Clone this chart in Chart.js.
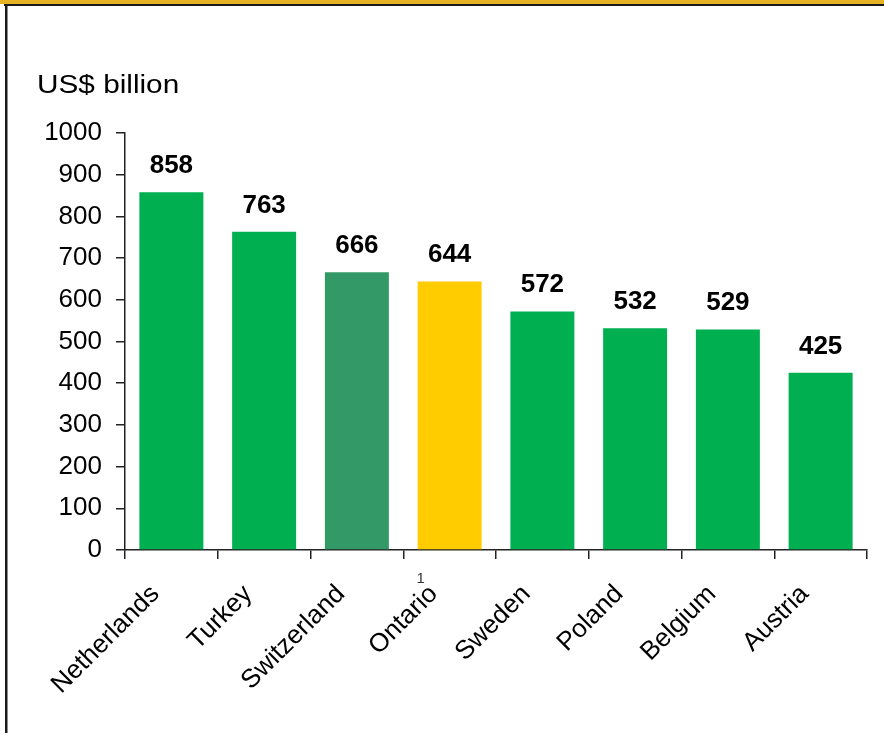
<!DOCTYPE html>
<html>
<head>
<meta charset="utf-8">
<script src="https://cdn.jsdelivr.net/npm/chart.js@4/dist/chart.umd.min.js"></script>
<style>
  html, body { margin: 0; padding: 0; background: #fff; }
  #wrap { width: 884px; height: 733px; }
</style>
</head>
<body>
<div id="wrap"><canvas id="chart" width="884" height="733"></canvas></div>
<script>
// GDP by economy, US$ billion
const categories = ['Netherlands', 'Turkey', 'Switzerland', 'Ontario', 'Sweden', 'Poland', 'Belgium', 'Austria'];
const gdpValues = [858, 763, 666, 644, 572, 532, 529, 425];
const barColors = ['#00B050', '#00B050', '#339966', '#FFCC00', '#00B050', '#00B050', '#00B050', '#00B050'];
const footnotes = ['', '', '', '1', '', '', '', ''];
const yTicks = [0, 100, 200, 300, 400, 500, 600, 700, 800, 900, 1000];
const unitLabel = 'US$ billion';

const FONT = '"Liberation Sans", Arial, Helvetica, sans-serif';

// Page frame: gold rule on top, dark rules along top and left
const framePlugin = {
  id: 'frame',
  beforeDraw(chart) {
    const ctx = chart.ctx;
    ctx.save();
    ctx.fillStyle = '#ffffff';
    ctx.fillRect(0, 0, chart.width, chart.height);
    ctx.fillStyle = '#E6B325';
    ctx.fillRect(0, 0, chart.width, 4);
    ctx.fillStyle = '#1a1a1a';
    ctx.fillRect(4, 4, chart.width - 4, 2);
    ctx.fillRect(5, 4, 2.5, chart.height - 4);
    ctx.restore();
  }
};

// Unit caption above the value axis (slightly wide lettering)
const unitPlugin = {
  id: 'unitCaption',
  afterDraw(chart) {
    const ctx = chart.ctx;
    const yScale = chart.scales.y;
    ctx.save();
    ctx.fillStyle = '#000';
    ctx.font = '25px ' + FONT;
    ctx.textAlign = 'left';
    ctx.textBaseline = 'alphabetic';
    ctx.translate(yScale.left, chart.chartArea.top - 40);
    ctx.scale(1.19, 1);
    ctx.fillText(unitLabel, 0, 0);
    ctx.restore();
  }
};

// Bold value labels above each bar, plus footnote markers on category labels
const valueLabelPlugin = {
  id: 'valueLabels',
  afterDatasetsDraw(chart) {
    const ctx = chart.ctx;
    const meta = chart.getDatasetMeta(0);
    ctx.save();
    ctx.fillStyle = '#000';
    ctx.font = 'bold 26px ' + FONT;
    ctx.textAlign = 'center';
    ctx.textBaseline = 'alphabetic';
    meta.data.forEach((bar, i) => {
      ctx.fillText(String(gdpValues[i]), bar.x, bar.y - 19);
    });
    const xScale = chart.scales.x;
    ctx.font = '15px ' + FONT;
    ctx.fillStyle = '#333';
    footnotes.forEach((note, i) => {
      if (!note) return;
      const px = xScale.getPixelForValue(i);
      ctx.fillText(note, px - 29, xScale.top + 33);
    });
    ctx.restore();
  }
};

new Chart(document.getElementById('chart'), {
  type: 'bar',
  data: {
    labels: categories,
    datasets: [{
      data: gdpValues,
      backgroundColor: barColors,
      borderWidth: 0,
      barPercentage: 0.69,
      categoryPercentage: 1.0
    }]
  },
  options: {
    responsive: false,
    animation: false,
    events: [],
    layout: { padding: { left: 37, right: 17, top: 133, bottom: 0 } },
    plugins: {
      legend: { display: false },
      tooltip: { enabled: false },
      title: { display: false }
    },
    scales: {
      x: {
        afterFit(scale) { scale.height = 183; },
        grid: {
          offset: true,
          drawOnChartArea: false,
          drawTicks: true,
          tickLength: 9,
          color: '#222',
          lineWidth: 1.5
        },
        border: { display: true, color: '#222', width: 1.5 },
        ticks: {
          color: '#000',
          font: { family: FONT, size: 26 },
          minRotation: 45,
          maxRotation: 45,
          autoSkip: false,
          padding: 20,
          labelOffset: -16
        }
      },
      y: {
        min: 0,
        max: 1000,
        afterFit(scale) { scale.width = 88; },
        afterBuildTicks(scale) { scale.ticks = yTicks.map(v => ({ value: v })); },
        grid: {
          drawOnChartArea: false,
          drawTicks: true,
          tickLength: 9,
          color: '#222',
          lineWidth: 1.5
        },
        border: { display: true, color: '#222', width: 1.5 },
        ticks: {
          color: '#000',
          font: { family: FONT, size: 26 },
          padding: 14,
          callback: (value) => String(value)
        }
      }
    }
  },
  plugins: [framePlugin, valueLabelPlugin, unitPlugin]
});
</script>
</body>
</html>
